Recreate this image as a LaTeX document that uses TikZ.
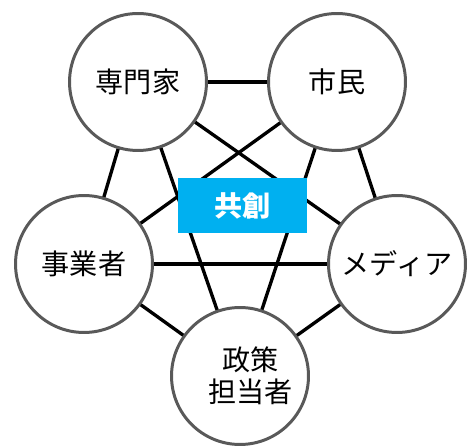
\documentclass[tikz,border=0pt]{standalone}
\usepackage{fontspec}
\newfontfamily\jpfont{Noto Sans CJK JP}
\usetikzlibrary{backgrounds}
\definecolor{ringgray}{HTML}{595959}
\definecolor{kyosoblue}{HTML}{00B0F0}
\begin{document}
\begin{tikzpicture}[x=0.02cm,y=-0.02cm,
  member/.style={circle,draw=ringgray,line width=1.7pt,fill=white,minimum size=2.74cm,inner sep=0pt,
    font=\jpfont\fontsize{16}{19}\selectfont,align=center},
  link/.style={line width=1.9pt,black}]
\useasboundingbox (0,0) rectangle (469,448);
% the five members
\node [member] (senmonka) at (138,82) {専門家};
\node [member] (shimin) at (337,82) {市民};
\node [member] (jigyosha) at (84,264) {事業者};
\node [member] (media) at (397,264) {メディア};
\node [member] (seisaku) at (240,376) {\hspace*{12pt}政策\\[-1pt]\hspace*{12pt}担当者};
% every member is linked to every other
\begin{scope}[on background layer]
\foreach \a/\b in {senmonka/shimin,senmonka/jigyosha,senmonka/media,senmonka/seisaku,
  shimin/jigyosha,shimin/media,shimin/seisaku,jigyosha/media,jigyosha/seisaku,media/seisaku}
  \draw [link] (\a.center) -- (\b.center);
\end{scope}
% center label
\node [fill=kyosoblue,text=white,minimum width=2.58cm,minimum height=1.1cm,inner sep=0pt,
  font=\jpfont\bfseries\fontsize{16}{19}\selectfont] (kyoso) at (242.5,205.5) {共創};
\end{tikzpicture}
\end{document}
